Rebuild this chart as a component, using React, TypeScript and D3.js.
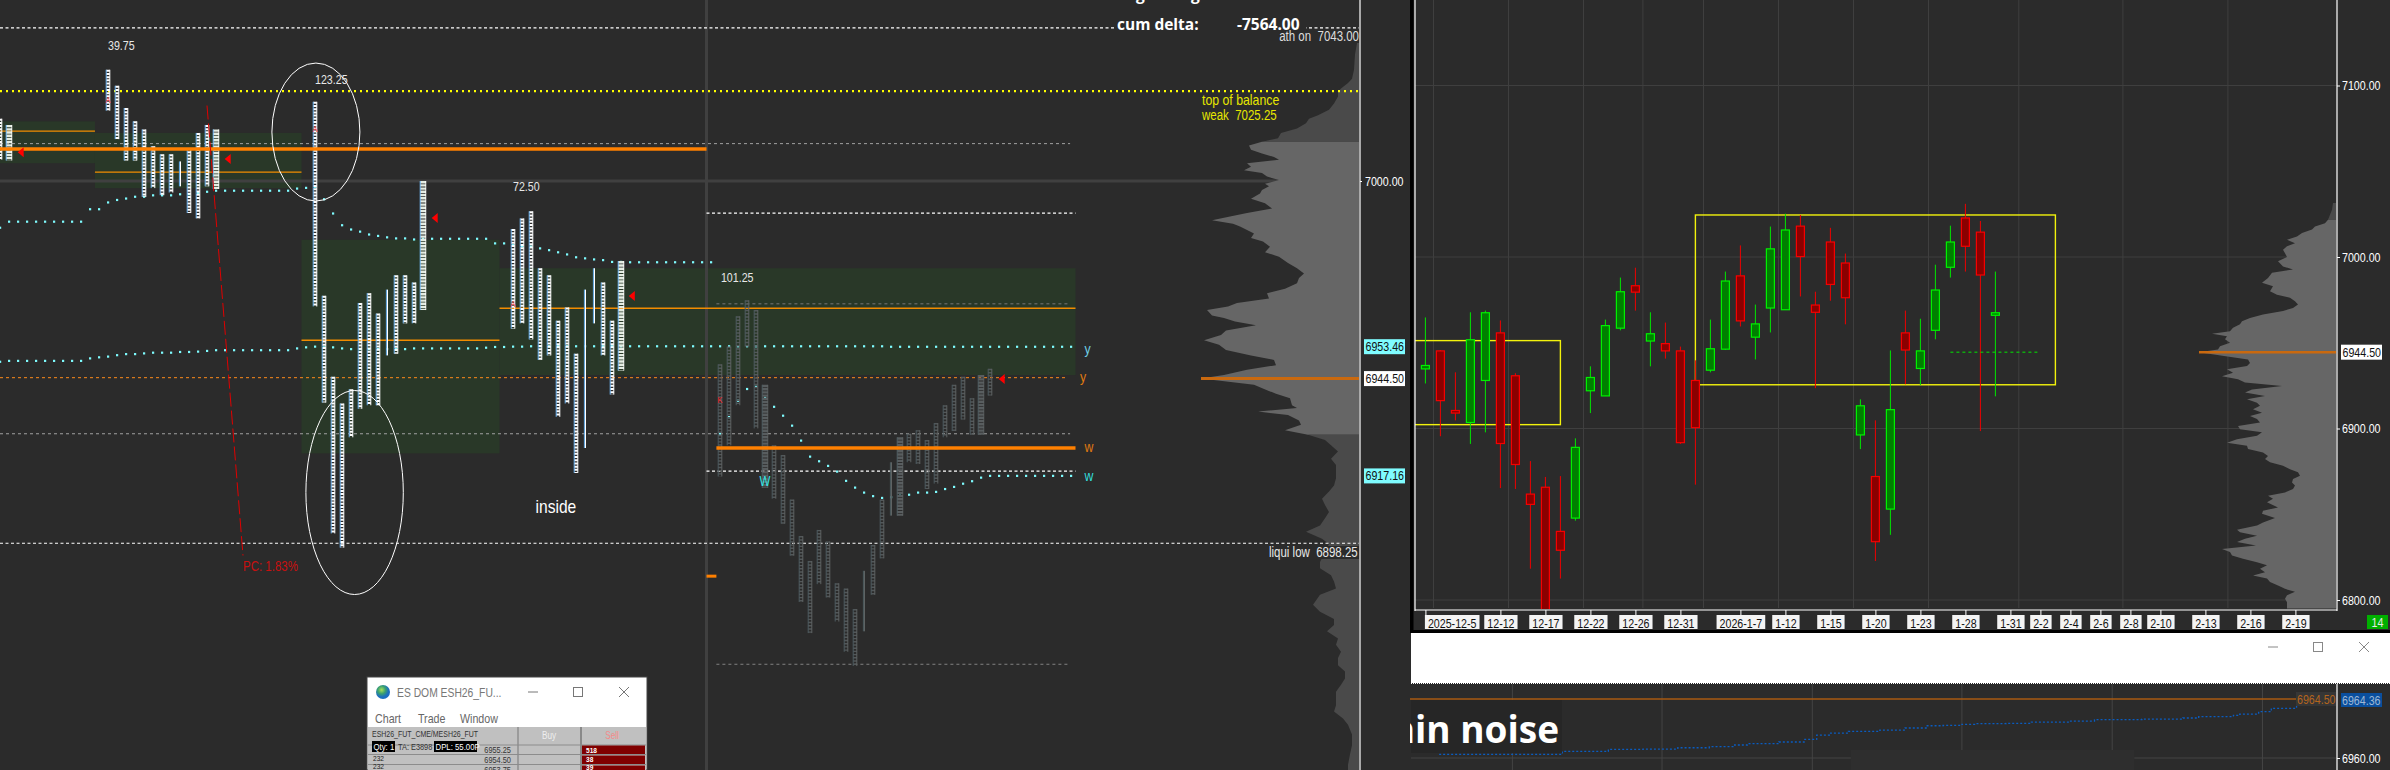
import React, { FC, useEffect, useRef } from "react"
import * as d3 from "d3"

// tpo columns of the left chart: bar number, high, low, letter, kind (n ladder, t thin, w wide)
const tpoBars = [0, 1, 12, 13, 14, 15, 16, 17, 18, 19, 20, 21, 22, 23, 24, 35, 36, 37, 38, 39, 40, 41, 42, 43, 44, 45, 46, 47, 57, 58, 59, 60, 61, 62, 63, 64, 65, 66, 67, 68, 69, 80, 81, 82, 83, 84, 85, 86, 87, 88, 89, 90, 91, 92, 93, 94, 95, 96, 97, 98, 99, 100, 101, 102, 103, 104, 105, 106, 107, 108, 109, 110]
const tpoHigh = [7017.5, 7015.75, 7031.25, 7026.75, 7020.5, 7016.75, 7014.5, 7009.75, 7007.5, 7007.5, 7005.5, 7009.25, 7013.5, 7015.75, 7014.5, 7022.25, 6967.75, 6945, 6937.5, 6941.5, 6965.75, 6968.5, 6962.75, 6969.5, 6973.5, 6973.5, 6971.5, 7000, 6986.5, 6989.5, 6991.5, 6975.5, 6973.5, 6960.75, 6964.5, 6951.5, 6969.5, 6975.5, 6971.5, 6960.75, 6977.5, 6948.5, 6953.5, 6962, 6966.5, 6963.75, 6942.75, 6925.75, 6923, 6910.5, 6900.25, 6893.25, 6902, 6898.75, 6887, 6885.5, 6879.75, 6890.5, 6897.75, 6910.5, 6921, 6928, 6929, 6930, 6927.25, 6932, 6937, 6942.75, 6945, 6939, 6945.5, 6947.25]
const tpoLow = [7006, 7005.75, 7019.75, 7011.75, 7005.75, 7005.75, 6995.5, 6998, 6996, 6996.75, 6998.5, 6991, 6989.5, 6998.5, 6997.75, 6964.75, 6937.75, 6901, 6897, 6928, 6936, 6937, 6937, 6951, 6951.5, 6960, 6960, 6963.75, 6958.5, 6960, 6955.5, 6949.75, 6951, 6933.75, 6937.5, 6918, 6925, 6960, 6951, 6940, 6946.75, 6917, 6925.75, 6937, 6953.5, 6930.5, 6913.75, 6910.75, 6903.75, 6894.75, 6881.75, 6873, 6886.75, 6883, 6876.25, 6867.75, 6863.75, 6873.5, 6883.75, 6894, 6906, 6906, 6921, 6920.5, 6913.5, 6915, 6928, 6929.75, 6933, 6928.75, 6928.75, 6939.75]
const tpoKinds = "nwnnnnnnnntnnnwnnnnnnnntnnnwnnnnnnnnttnnwnnnnnwnnnnnnnnnntnntwnnnnnnnnwn".split("")
const openBars = [12, 35, 57, 80]
const openPrices = [7022.75, 7014.5, 6965.5, 6938.5]
const openLetters = ["A", "A", "A", "K"]

// value areas and point of control per session
const areaFrom = [0, 10.55, 33.5, 55.5]
const areaTo = [10.55, 33.5, 55.5, 119.5]
const areaHigh = [7016.75, 7013.5, 6983.5, 6975.5]
const areaLow = [7005, 6998, 6923.5, 6945.5]
const pocPrices = [7014, 7002.5, 6955.25, 6964.25]

// dotted curves, one value per bar
const upperBars = d3.range(0, 80)
const upperDots = [6986.9, 6988.6, 6988.6, 6988.6, 6988.6, 6988.6, 6988.6, 6988.6, 6988.6, 6988.6, 6992.1, 6992.1, 6994, 6994.7, 6995.1, 6995.6, 6995.6, 6996, 6996, 6996, 6996.3, 6996.3, 6996.7, 6997, 6997.3, 6997.3, 6997.3, 6997.3, 6997.3, 6997.3, 6997.3, 6997.3, 6997.3, 6997.9, 6998.1, 6998.4, 6994.9, 6990.9, 6987.6, 6986.4, 6985.8, 6985, 6984.6, 6984.2, 6983.9, 6983.9, 6983.6, 6983.8, 6983.8, 6983.8, 6983.8, 6983.8, 6983.8, 6983.8, 6983.8, 6982.5, 6982.5, 6982, 6981.7, 6981.6, 6981.1, 6980.6, 6980, 6979.4, 6978.6, 6978.3, 6978, 6977.8, 6977.3, 6977.3, 6977.2, 6977.2, 6977.2, 6977.2, 6977.2, 6977.2, 6977.2, 6977.2, 6977.2, 6977.2]
const sessionBars = d3.range(80, 120)
const sessionDots = [6929.1, 6933.7, 6938.3, 6941.6, 6942.2, 6939.1, 6936.6, 6934.1, 6931.3, 6927.1, 6922.6, 6921.3, 6920, 6918.4, 6915.8, 6913.9, 6912.5, 6911.5, 6911, 6911.2, 6911.6, 6911.9, 6912.5, 6912.5, 6912.7, 6913.5, 6914.1, 6915, 6915.7, 6916.7, 6917.2, 6917.2, 6917.2, 6917.2, 6917.2, 6917.2, 6917.2, 6917.2, 6917.2, 6917.2]
const lowerBars = d3.range(0, 120)
const lowerDots = [6949.25, 6949.5, 6949.5, 6949.5, 6949.5, 6949.5, 6949.5, 6949.5, 6949.5, 6949.5, 6950.2, 6950.5, 6950.7, 6951.1, 6951.4, 6951.4, 6951.6, 6951.8, 6951.8, 6951.8, 6952, 6952, 6952.1, 6952.3, 6952.5, 6952.5, 6952.5, 6952.5, 6952.5, 6952.5, 6952.5, 6952.5, 6952.5, 6953, 6953.3, 6953.5, 6953.3, 6953.3, 6953, 6952.8, 6952.8, 6952.8, 6952.8, 6952.8, 6952.8, 6952.8, 6953, 6953, 6953, 6953, 6953, 6953, 6953, 6953, 6953.2, 6953.4, 6953.4, 6953.5, 6953.5, 6953.6, 6953.6, 6953.6, 6953.6, 6953.6, 6953.6, 6953.6, 6953.6, 6953.6, 6953.6, 6953.6, 6953.6, 6953.6, 6953.6, 6953.6, 6953.6, 6953.6, 6953.6, 6953.6, 6953.6, 6953.6, 6953.6, 6953.6, 6953.6, 6953.6, 6953.6, 6953.6, 6953.6, 6953.6, 6953.6, 6953.6, 6953.6, 6953.6, 6953.6, 6953.6, 6953.6, 6953.6, 6953.6, 6953.6, 6953.6, 6953.46, 6953.46, 6953.46, 6953.46, 6953.46, 6953.46, 6953.46, 6953.46, 6953.46, 6953.46, 6953.46, 6953.46, 6953.46, 6953.46, 6953.46, 6953.46, 6953.46, 6953.46, 6953.46, 6953.46, 6953.46]

// left volume profile
const leftLevels = [7038.75, 7035.5, 7031.25, 7028.75, 7027.5, 7026, 7025, 7023.75, 7021.75, 7020, 7018.5, 7017.5, 7016.25, 7014.75, 7013.5, 7012, 7011, 7010, 7008.75, 7007.75, 7006.75, 7006, 7005, 7004, 7003, 7002.25, 7001.25, 7000.25, 6999.25, 6998.5, 6997.5, 6996.5, 6995, 6993.75, 6992.25, 6991, 6990, 6989, 6988, 6987.25, 6986.25, 6985.25, 6984, 6983, 6981.5, 6980, 6978.75, 6977, 6975.5, 6974, 6972.75, 6971.25, 6969.75, 6968.5, 6967, 6965.75, 6964.75, 6963.75, 6962.25, 6961.5, 6960.5, 6959.5, 6958, 6956.75, 6955.25, 6954, 6952.5, 6951, 6949.75, 6948.25, 6947, 6945.5, 6944.5, 6942.75, 6941.25, 6940.25, 6939, 6937, 6936.25, 6935.25, 6934.25, 6932.75, 6931.5, 6930, 6928.75, 6927.25, 6925.75, 6924, 6922, 6920.25, 6918.25, 6916.5, 6914.5, 6912.75, 6910.75, 6909, 6907, 6905.25, 6903.25, 6901.5, 6899.5, 6898, 6893, 6891.25, 6889.25, 6887.5, 6885.5, 6883.75, 6881, 6879, 6877, 6875.25, 6873.5, 6871.5, 6869.75, 6867.75, 6866, 6864, 6862.25, 6860.25, 6858.5, 6856.5, 6854.75, 6852.75, 6851, 6849, 6847.25, 6844.5, 6841.5, 6839, 6836, 6834.5]
const leftVols = [2, 4, 5, 7, 11, 18, 21, 21, 25, 30, 41, 50, 53, 62, 78, 81, 97, 110, 108, 97, 85, 80, 112, 108, 115, 97, 92, 80, 94, 90, 97, 99, 108, 94, 87, 112, 129, 147, 126, 119, 112, 105, 108, 96, 89, 94, 80, 71, 62, 55, 60, 62, 74, 92, 90, 122, 131, 152, 147, 135, 124, 103, 133, 138, 155, 140, 133, 108, 85, 83, 112, 135, 158, 105, 92, 83, 69, 67, 62, 101, 71, 60, 58, 74, 51, 34, 28, 21, 28, 23, 23, 23, 25, 30, 37, 34, 30, 34, 39, 53, 37, 30, 39, 39, 28, 25, 23, 39, 46, 39, 25, 25, 32, 21, 23, 18, 21, 21, 14, 14, 18, 23, 23, 23, 25, 16, 11, 7, 7, 9, 11, 11]

// right volume profile
const rightLevels = [7031.5, 7027.5, 7021.75, 7019.75, 7017.75, 7016, 7014, 7012, 7010, 7008, 7006.25, 7004.25, 7002.25, 7000, 6997.5, 6994.5, 6992.75, 6990.75, 6987.75, 6985, 6983, 6980, 6978, 6976.25, 6974.25, 6972.25, 6970.25, 6968.5, 6966.5, 6964.5, 6962.5, 6960.75, 6958.75, 6956.75, 6955.25, 6953.75, 6952, 6950, 6948, 6946, 6944.5, 6942.25, 6940.25, 6938.25, 6936.5, 6934.5, 6932.5, 6930.5, 6928.75, 6926.75, 6924.75, 6922.75, 6921, 6919, 6917, 6915, 6913.25, 6911.25, 6909.25, 6907.25, 6905.5, 6903.5, 6901.5, 6899.5, 6897.75, 6895.75, 6893.75, 6891.75, 6890, 6888, 6886, 6884, 6882.25, 6880.25, 6878.25, 6876.25, 6874.5, 6872.5, 6870.5, 6868.5, 6866.75, 6864.75, 6862.75, 6860.75, 6859, 6857, 6854, 6852, 6850.25, 6847.75, 6845.25, 6843.5, 6841, 6839.5, 6837.5, 6835.75, 6833.75, 6831.75, 6829.75, 6828, 6826, 6824, 6822, 6820.25, 6818.25, 6816.25, 6814.25, 6812.5, 6810.5, 6808.5, 6806.5, 6804.75, 6802.75, 6800.75, 6798.75, 6795]
const rightVols = [3, 4, 8, 11, 21, 24, 34, 39, 49, 41, 49, 53, 51, 49, 58, 53, 43, 64, 68, 74, 63, 66, 59, 46, 41, 38, 43, 53, 73, 86, 94, 96, 103, 106, 124, 109, 111, 106, 116, 118, 137, 112, 88, 86, 89, 109, 103, 114, 98, 91, 54, 84, 91, 71, 89, 79, 76, 83, 74, 86, 79, 76, 98, 96, 74, 79, 99, 109, 89, 88, 73, 68, 71, 66, 53, 46, 38, 36, 43, 44, 41, 43, 51, 68, 63, 69, 58, 73, 74, 61, 73, 79, 99, 96, 79, 91, 99, 80, 114, 106, 104, 93, 79, 69, 76, 71, 83, 69, 66, 58, 51, 41, 49, 51, 49, 49]

// daily candles of the right chart
const candleOpen = [6934.75, 6945.25, 6910.5, 6903.5, 6928, 6955.75, 6930.75, 6861.75, 6865.75, 6840, 6847.75, 6922, 6919, 6958.5, 6983.25, 6951, 6949.5, 6945.25, 6928, 6934, 6946.25, 6989, 6953.25, 6970.25, 6969.25, 7018, 6972, 7008.75, 6996.5, 6896.25, 6872, 6853, 6955.75, 6935, 6957.25, 6994, 7022.75, 7014.5, 6966]
const candleClose = [6936.75, 6916.25, 6909, 6951.75, 6967.5, 6891.25, 6879, 6855.75, 6790, 6829, 6889, 6929.75, 6960, 6979.75, 6979.5, 6955.25, 6945.25, 6891.75, 6900.5, 6946.5, 6986, 6962.75, 6961, 7004.75, 7015.75, 7000.25, 6967.75, 6984, 6976.25, 6913.25, 6834, 6911, 6945.75, 6945.25, 6980.75, 7008.75, 7006.25, 6989.5, 6967.5]
const candleHigh = [6964.75, 6945.75, 6932.75, 6967.75, 6968.75, 6963, 6932.25, 6881, 6871.75, 6872.25, 6894.25, 6936.25, 6963.5, 6988, 6993.75, 6967.75, 6961.75, 6947.75, 6939.75, 6963.5, 6991.5, 7006.75, 6972.25, 7017.75, 7025.25, 7024.5, 6979.75, 7017, 7002, 6917, 6904.75, 6945.5, 6968.75, 6964, 6995.5, 7018.25, 7031, 7021, 6991.5]
const candleLow = [6926.25, 6895.5, 6904.75, 6891, 6897.75, 6865.25, 6864.75, 6818.25, 6785, 6812.5, 6846.25, 6909, 6919, 6957.25, 6968.75, 6936.25, 6940.75, 6891, 6867.25, 6932.75, 6945.75, 6959.5, 6940.25, 6956, 6969.25, 6977, 6923.5, 6974.5, 6960.75, 6888, 6822.75, 6838, 6925.75, 6925.25, 6952, 6988, 6991.5, 6898.5, 6918.75]

const dateTicks = [0, 5, 8, 11, 14, 17, 21, 24, 27, 30, 33, 36, 39, 41, 43, 45, 47, 49, 52, 55, 58]
const dateLabels = ["2025-12-5", "12-12", "12-17", "12-22", "12-26", "12-31", "2026-1-7", "1-12", "1-15", "1-20", "1-23", "1-28", "1-31", "2-2", "2-4", "2-6", "2-8", "2-10", "2-13", "2-16", "2-19"]
const dateGrid = [0.54, 5.54, 10.54, 14.5, 18.54, 23.54, 28.54, 33.54, 39.56, 46.5, 53.5]

// bottom panel flow line
const flowBars = [62, 172, 257, 290, 330, 385, 440, 490, 530, 550, 600, 640, 660, 680, 710, 760, 800, 835, 860, 890, 910, 960, 1000, 1060, 1100, 1175, 1240, 1265, 1320, 1330, 1360, 1380, 1420]
const flowPrices = [6960.28, 6960.28, 6960.5, 6960.5, 6960.66, 6960.68, 6960.78, 6960.86, 6960.99, 6961.09, 6961.22, 6961.42, 6961.75, 6961.9, 6962.03, 6962.13, 6962.29, 6962.46, 6962.49, 6962.57, 6962.62, 6962.64, 6962.74, 6962.82, 6962.92, 6962.97, 6963.05, 6963.15, 6963.25, 6963.35, 6963.53, 6963.79, 6964.04]
const flowGrid = [178, 415, 653, 890, 1128, 1366]

// no narrow font is installed, so the platform labels get squeezed by hand
const NARROW = "'Liberation Sans', sans-serif"
const SANS = "'Open Sans', sans-serif"
const SQUEEZE = 0.82

const squeeze = (el: SVGTextElement) => {
  el.setAttribute("textLength", String(el.getComputedTextLength() * SQUEEZE))
  el.setAttribute("lengthAdjust", "spacingAndGlyphs")
}

const App: FC = () => {
  const svgRef = useRef<SVGSVGElement>(null)

  useEffect(() => {
    document.body.style.margin = "0"
    document.body.style.overflow = "hidden"
    const svg = d3.select(svgRef.current)
    svg.selectAll("*").remove()

    // scales
    const barX = d3.scaleLinear().domain([0, 151]).range([0, 1359])
    const leftY = d3.scaleLinear().domain([7000, 6900]).range([181, 537])
    const candleX = d3.scaleLinear().domain([0, 58]).range([1425.4, 2295.4])
    const rightY = d3.scaleLinear().domain([7000, 6800]).range([257, 600])
    const flowX = d3.scaleLinear().domain([0, 1568]).range([1400, 2390])
    const flowY = d3.scaleLinear().domain([6964.5, 6960]).range([699, 758])
    const leftVol = d3.scaleLinear().domain([0, 158]).range([1359, 1201])
    const rightVol = d3.scaleLinear().domain([0, 137]).range([2336, 2199])

    const text = (g: any, x: number, y: number, s: string, fill: string, size = 13, family = NARROW, weight = "normal", anchor = "start", narrow = true) => {
      const t = g.append("text").attr("x", x).attr("y", y).attr("fill", fill).attr("font-size", size)
        .attr("font-family", family).attr("font-weight", weight).attr("text-anchor", anchor)
        .attr("xml:space", "preserve").text(s)
      if (narrow) squeeze(t.node())
      return t
    }
    const styleAxis = (axis: any) => {
      axis.select(".domain").remove()
      axis.selectAll("line").attr("stroke", "#ffffff")
      axis.selectAll("text").attr("font-family", NARROW).attr("font-size", 13).attr("fill", "#ffffff").attr("x", 5)
        .each(function (this: SVGTextElement) { squeeze(this) })
    }

    // background
    svg.append("rect").attr("width", 2390).attr("height", 770).attr("fill", "#2b2b2b")

    // left chart ---------------------------------------------------------
    const left = svg.append("g")
    areaFrom.forEach((_, i) => {
      left.append("rect")
        .attr("x", barX(areaFrom[i])).attr("width", barX(areaTo[i]) - barX(areaFrom[i]))
        .attr("y", leftY(areaHigh[i])).attr("height", leftY(areaLow[i]) - leftY(areaHigh[i]))
        .attr("fill", "#293828")
    })

    // crosshair
    left.append("line").attr("x1", 0).attr("x2", 1359).attr("y1", leftY(7000)).attr("y2", leftY(7000)).attr("stroke", "#404040").attr("stroke-width", 3)
    left.append("line").attr("x1", barX(78.5)).attr("x2", barX(78.5)).attr("y1", 0).attr("y2", 770).attr("stroke", "#404040").attr("stroke-width", 3)

    // volume profile, the value area is lighter
    const drawProfile = (g: any, levels: number[], vols: number[], y: any, vol: any, test: (p: number) => boolean, fill: string) => {
      const rows = levels.map((p, i) => ({ p, v: vols[i] })).filter((d) => test(d.p))
      const area = d3.area<{ p: number; v: number }>()
        .y((d) => y(d.p)).x0(vol(0)).x1((d) => vol(d.v))
      g.append("path").attr("d", area(rows)).attr("fill", fill)
    }
    drawProfile(left, leftLevels, leftVols, leftY, leftVol, (p) => p >= 7011, "#4a4a4a")
    drawProfile(left, leftLevels, leftVols, leftY, leftVol, (p) => p <= 7011 && p >= 6928.75, "#666666")
    drawProfile(left, leftLevels, leftVols, leftY, leftVol, (p) => p <= 6928.75, "#4a4a4a")

    // levels
    const level = (p: number, from: number, to: number, stroke: string, width: number, dash?: string) =>
      left.append("line").attr("x1", barX(from)).attr("x2", barX(to)).attr("y1", leftY(p)).attr("y2", leftY(p))
        .attr("stroke", stroke).attr("stroke-width", width).attr("stroke-dasharray", dash ?? null)
    level(7043, 0, 151, "#ffffff", 1.2, "3 2.5")
    level(6991, 78.5, 119.5, "#ffffff", 1.2, "3 2.5")
    level(6918.5, 78.5, 119.5, "#ffffff", 1.2, "3 2.5")
    level(6898.25, 0, 151, "#ffffff", 1.2, "3 2.5")
    level(7010.5, 0, 118.9, "#a0a0a0", 1, "3 3")
    level(6929, 0, 118.9, "#a0a0a0", 1, "3 3")
    level(6965.5, 79.6, 118.9, "#777777", 1, "3 3")
    level(6864.25, 79.6, 118.9, "#808080", 1, "3 3")
    level(6944.75, 0, 118.5, "#ff8c1a", 1, "3 3")
    areaFrom.forEach((_, i) => level(pocPrices[i], areaFrom[i], areaTo[i], "#f28c00", 1.4))
    level(7025.25, 0, 151, "#ffff00", 2.2, "2 4")

    // dotted curves
    const dots = (bars: number[], prices: number[]) =>
      bars.forEach((b, i) => {
        left.append("rect").attr("x", barX(b) - 1).attr("y", leftY(prices[i]) - 1).attr("width", 2.2).attr("height", 2.2).attr("fill", "#7ffcff")
      })
    dots(upperBars, upperDots)
    dots(sessionBars, sessionDots)
    dots(lowerBars, lowerDots)

    // tpo columns
    tpoBars.forEach((b, i) => {
      const x = barX(b)
      const y0 = leftY(tpoHigh[i])
      const y1 = leftY(tpoLow[i])
      const past = b >= 80
      const rail = past ? "#5e6363" : "#ffffff"
      const blue = past ? "#4e5c60" : "#6db4f2"
      const col = left.append("g")
      const vline = (dx: number, stroke: string, w: number, dash?: string) =>
        col.append("line").attr("x1", x + dx).attr("x2", x + dx).attr("y1", y0).attr("y2", y1)
          .attr("stroke", stroke).attr("stroke-width", w).attr("stroke-dasharray", dash ?? null)
      if (tpoKinds[i] === "t") {
        vline(-0.6, blue, 1)
        vline(0.5, rail, 1)
        return
      }
      if (tpoKinds[i] === "w") {
        vline(0, past ? "#585d5f" : "#e4ece2", 6, "2.4 0.8")
        vline(-2.8, blue, 1)
        vline(2.8, rail, 0.8)
      } else {
        vline(0, past ? "#53585a" : rail, 3.6, past ? "1.4 1.8" : "2 1.2")
        vline(-1.8, blue, 1)
        vline(1.8, rail, 1)
      }
    })
    openBars.forEach((b, i) => text(left, barX(b), leftY(openPrices[i]) + 3, openLetters[i], "#ff2020", 9, NARROW, "normal", "middle"))
    text(left, barX(85), leftY(6915.7) + 5, "W", "#33e6e6", 14, NARROW, "normal", "middle")

    // thick orange levels
    level(7009, 0, 78.5, "#ff8000", 3.5)
    level(6889, 78.5, 79.6, "#ff8000", 3)
    level(6925, 79.6, 119.5, "#ff8000", 3.5)

    // red markers
    const markBars = [2.3, 25.3, 48.3, 70.2, 111.3]
    const markPrices = [7008.1, 7006.2, 6989.6, 6967.7, 6944.4]
    markBars.forEach((b, i) => {
      const x = barX(b)
      const y = leftY(markPrices[i])
      left.append("path").attr("d", d3.line()([[x - 3, y], [x + 3, y - 5], [x + 3, y + 5]]) + "Z").attr("fill", "#ff0000")
    })

    // percent change line and ellipses
    left.append("line").attr("x1", barX(23)).attr("x2", barX(27)).attr("y1", leftY(7021.2)).attr("y2", leftY(6894.8))
      .attr("stroke", "#e00000").attr("stroke-width", 1).attr("stroke-dasharray", "14 4")
    text(left, barX(27), 571, "PC: 1.83%", "#c81010", 14)
    const ring = (bar: number, p: number, rx: number, ry: number) =>
      left.append("ellipse").attr("cx", barX(bar)).attr("cy", leftY(p)).attr("rx", rx).attr("ry", ry)
        .attr("fill", "none").attr("stroke", "#ffffff").attr("stroke-width", 1)
    ring(35.1, 7013.75, 44, 69)
    ring(39.4, 6912.5, 48.7, 102)

    // annotations
    text(left, barX(12), 50, "39.75", "#e8e8e8")
    text(left, barX(35), 84, "123.25", "#e8e8e8")
    text(left, barX(57), 191, "72.50", "#e8e8e8")
    text(left, barX(80.1), 282, "101.25", "#e8e8e8")
    text(left, barX(59.5), 513, "inside", "#ffffff", 19)
    text(left, barX(120.5), 354, "y", "#6fd0e6", 15)
    text(left, barX(120), 382, "y", "#e07a10", 15)
    text(left, barX(120.5), 452, "w", "#e07a10", 15)
    text(left, barX(120.5), 481, "w", "#33dcdc", 15)

    left.append("rect").attr("x", 1115).attr("y", 20).attr("width", 191).attr("height", 14).attr("fill", "#2b2b2b")
    text(left, 1117, 30, "cum delta:", "#ffffff", 15.5, SANS, "bold", "start", false)
    text(left, 1237, 30, "-7564.00", "#ffffff", 15.5, SANS, "bold", "start", false)
    text(left, 1136, 0, "g", "#ffffff", 15.5, SANS, "bold", "start", false)
    text(left, 1191, 0, "g", "#ffffff", 15.5, SANS, "bold", "start", false)
    text(left, 1359, 41, "ath on  7043.00", "#dddddd", 14, NARROW, "normal", "end")
    text(left, 1202, 105, "top of balance", "#e6e600", 15)
    text(left, 1202, 120, "weak  7025.25", "#e6e600", 14)
    left.append("rect").attr("x", 1268).attr("y", 546).attr("width", 91).attr("height", 13).attr("fill", "#2b2b2b")
    text(left, 1269, 557, "liqui low  6898.25", "#e8e8e8", 14)

    // poc of the profile
    left.append("line").attr("x1", leftVol(158)).attr("x2", 1359).attr("y1", leftY(6944.5)).attr("y2", leftY(6944.5))
      .attr("stroke", "#c9690f").attr("stroke-width", 3)

    // left price axis
    const leftAxis = svg.append("g").attr("transform", "translate(1360,0)")
      .call(d3.axisRight(leftY).tickValues([7000]).tickFormat(d3.format(".2f") as any).tickSize(2))
    styleAxis(leftAxis)
    svg.append("line").attr("x1", 1360).attr("x2", 1360).attr("y1", 0).attr("y2", 770).attr("stroke", "#ffffff").attr("stroke-width", 1.2)
    const priceTag = (p: number, bg: string) => {
      svg.append("rect").attr("x", 1364).attr("y", leftY(p) - 7.5).attr("width", 41).attr("height", 15).attr("fill", bg)
      text(svg, 1365.5, leftY(p) + 4.5, d3.format(".2f")(p), "#111111")
    }
    priceTag(6953.46, "#7ffcff")
    priceTag(6917.16, "#7ffcff")
    priceTag(6944.5, "#ffffff")

    // right chart ---------------------------------------------------------
    svg.append("rect").attr("x", 1410).attr("y", 0).attr("width", 3.5).attr("height", 633).attr("fill", "#000000")
    svg.append("clipPath").attr("id", "rightClip").append("rect").attr("x", 1415).attr("y", 0).attr("width", 922).attr("height", 609)
    const right = svg.append("g").attr("clip-path", "url(#rightClip)")
    const grid = right.append("g").attr("stroke", "#3f3f3f").attr("stroke-width", 1)
    dateGrid.forEach((d) => grid.append("line").attr("x1", candleX(d)).attr("x2", candleX(d)).attr("y1", 0).attr("y2", 608))
    ;[7100, 7000, 6900, 6800].forEach((p) => grid.append("line").attr("x1", 1415).attr("x2", 2337).attr("y1", rightY(p)).attr("y2", rightY(p)))

    drawProfile(right, rightLevels, rightVols, rightY, rightVol, (p) => p >= 7021.75, "#4a4a4a")
    drawProfile(right, rightLevels, rightVols, rightY, rightVol, (p) => p <= 7021.75, "#666666")
    right.append("line").attr("x1", rightVol(137)).attr("x2", 2336).attr("y1", rightY(6944.5)).attr("y2", rightY(6944.5))
      .attr("stroke", "#c9690f").attr("stroke-width", 2.5)

    // balance boxes
    const box = (from: number, to: number, hi: number, lo: number) =>
      right.append("rect").attr("x", candleX(from)).attr("width", candleX(to) - candleX(from))
        .attr("y", rightY(hi)).attr("height", rightY(lo) - rightY(hi))
        .attr("fill", "none").attr("stroke", "#f2f20c").attr("stroke-width", 1.4)
    box(-2, 9, 6951.25, 6902.25)
    box(18, 42, 7024.5, 6925.5)

    candleOpen.forEach((o, i) => {
      const c = candleClose[i]
      const up = c >= o
      const x = candleX(i)
      right.append("line").attr("x1", x).attr("x2", x).attr("y1", rightY(candleHigh[i])).attr("y2", rightY(candleLow[i]))
        .attr("stroke", up ? "#00e600" : "#f00000").attr("stroke-width", 1)
      right.append("rect").attr("x", x - 4).attr("width", 8)
        .attr("y", rightY(Math.max(o, c))).attr("height", Math.abs(rightY(o) - rightY(c)))
        .attr("fill", up ? "#007f00" : "#8b0000").attr("stroke", up ? "#00f000" : "#f50000").attr("stroke-width", 1.2)
    })
    right.append("line").attr("x1", candleX(35)).attr("x2", candleX(41)).attr("y1", rightY(6944.5)).attr("y2", rightY(6944.5))
      .attr("stroke", "#00e600").attr("stroke-width", 1).attr("stroke-dasharray", "3 3")

    // right chart axes
    const rightAxis = svg.append("g").attr("transform", "translate(2337,0)")
      .call(d3.axisRight(rightY).tickValues([7100, 7000, 6900, 6800]).tickFormat(d3.format(".2f") as any).tickSize(3))
    styleAxis(rightAxis)
    svg.append("line").attr("x1", 1415).attr("x2", 1415).attr("y1", 0).attr("y2", 611).attr("stroke", "#ffffff").attr("stroke-width", 1.2)
    svg.append("line").attr("x1", 2337).attr("x2", 2337).attr("y1", 0).attr("y2", 611).attr("stroke", "#ffffff").attr("stroke-width", 1.2)
    svg.append("line").attr("x1", 1415).attr("x2", 2337).attr("y1", 610).attr("y2", 610).attr("stroke", "#ffffff").attr("stroke-width", 1.2)
    svg.append("rect").attr("x", 2341).attr("y", rightY(6944.5) - 7.5).attr("width", 41).attr("height", 15).attr("fill", "#ffffff")
    text(svg, 2342.5, rightY(6944.5) + 4.5, "6944.50", "#111111")

    const dateAxis = svg.append("g").attr("transform", "translate(0,610)")
      .call(d3.axisBottom(candleX).tickValues(dateTicks).tickSize(5).tickFormat((_, i) => dateLabels[i]))
    dateAxis.select(".domain").remove()
    dateAxis.selectAll("line").attr("stroke", "#ffffff")
    dateAxis.selectAll(".tick").each(function (_, i) {
      const t = d3.select(this as SVGGElement)
      const label = t.select("text").attr("font-family", NARROW).attr("font-size", 13).attr("fill", "#111111").attr("y", 6).attr("dy", "0.95em")
      const node = label.node() as SVGTextElement
      const w = node.getComputedTextLength() * SQUEEZE
      squeeze(node)
      // the first label starts at its tick so it stays inside the chart
      const dx = i === 0 ? w / 2 + 2 : 0
      label.attr("x", dx)
      t.insert("rect", "text").attr("x", dx - w / 2 - 3).attr("y", 5).attr("width", w + 6).attr("height", 14).attr("fill", "#f4f4f4")
    })
    svg.append("rect").attr("x", 2367).attr("y", 615).attr("width", 21).attr("height", 14).attr("fill", "#00b000")
    text(svg, 2377.5, 627, "14", "#e8e8e8", 13, NARROW, "normal", "middle")
    svg.append("rect").attr("x", 1410).attr("y", 630).attr("width", 980).attr("height", 3).attr("fill", "#000000")

    // bottom right window -------------------------------------------------
    svg.append("rect").attr("x", 1411).attr("y", 633).attr("width", 979).attr("height", 50).attr("fill", "#ffffff")
    const winBtn = svg.append("g").attr("stroke", "#888888").attr("fill", "none").attr("stroke-width", 1)
    winBtn.append("line").attr("x1", 2268).attr("x2", 2278).attr("y1", 647).attr("y2", 647)
    winBtn.append("rect").attr("x", 2313.5).attr("y", 642.5).attr("width", 9).attr("height", 9)
    winBtn.append("path").attr("d", "M2359,642L2369,652M2369,642L2359,652")
    svg.append("line").attr("x1", 1411).attr("x2", 2390).attr("y1", 683.5).attr("y2", 683.5).attr("stroke", "#ffffff").attr("stroke-dasharray", "1 1")

    const flow = svg.append("g")
    flowGrid.forEach((b) => flow.append("line").attr("x1", flowX(b)).attr("x2", flowX(b)).attr("y1", 684).attr("y2", 770).attr("stroke", "#444444"))
    flow.append("line").attr("x1", 1411).attr("x2", 2337).attr("y1", flowY(6960)).attr("y2", flowY(6960)).attr("stroke", "#444444")
    flow.append("rect").attr("x", flowX(714)).attr("y", 750).attr("width", flowX(1163) - flowX(714)).attr("height", 20).attr("fill", "#2e2e2e")
    flow.append("path")
      .attr("d", d3.line<number>().x((b) => flowX(b)).y((_, i) => flowY(flowPrices[i])).curve(d3.curveStepAfter)(flowBars))
      .attr("fill", "none").attr("stroke", "#0a5cc0").attr("stroke-width", 1.3).attr("stroke-dasharray", "2 2")
    flow.append("line").attr("x1", 1410).attr("x2", 2296).attr("y1", flowY(6964.5)).attr("y2", flowY(6964.5)).attr("stroke", "#a85a12").attr("stroke-width", 1.4)
    flow.append("rect").attr("x", 2296).attr("y", 692).attr("width", 40).attr("height", 14).attr("fill", "#363636")
    text(flow, 2297, 703.5, "6964.50", "#b5651d")
    flow.append("rect").attr("x", 2341).attr("y", 693).attr("width", 41).attr("height", 14).attr("fill", "#0a4f9e")
    text(flow, 2342, 704.5, "6964.36", "#9fb8d4")
    const flowAxis = svg.append("g").attr("transform", "translate(2337,0)")
      .call(d3.axisRight(flowY).tickValues([6960]).tickFormat(d3.format(".2f") as any).tickSize(3))
    styleAxis(flowAxis)
    svg.append("line").attr("x1", 2337).attr("x2", 2337).attr("y1", 684).attr("y2", 770).attr("stroke", "#ffffff").attr("stroke-width", 1.2)

    svg.append("clipPath").attr("id", "noiseClip").append("rect").attr("x", 1410).attr("y", 700).attr("width", 152).attr("height", 53)
    const noise = svg.append("g")
    noise.append("rect").attr("x", 1411).attr("y", 700).attr("width", 151).attr("height", 53).attr("fill", "#262626")
    text(noise.append("g").attr("clip-path", "url(#noiseClip)"), 1559, 743, "hin noise", "#ffffff", 37, SANS, "bold", "end", false)

    // dom window ----------------------------------------------------------
    const dom = svg.append("g")
    dom.append("rect").attr("x", 367).attr("y", 677).attr("width", 280).attr("height", 93).attr("fill", "#ffffff").attr("stroke", "#444444")
    const gradient = svg.append("radialGradient").attr("id", "globe").attr("cx", 0.4).attr("cy", 0.35)
    gradient.append("stop").attr("offset", 0).attr("stop-color", "#a8e05a")
    gradient.append("stop").attr("offset", 0.55).attr("stop-color", "#3aa070")
    gradient.append("stop").attr("offset", 1).attr("stop-color", "#1c6fc0")
    dom.append("circle").attr("cx", 383).attr("cy", 692).attr("r", 7).attr("fill", "url(#globe)")
    text(dom, 397, 697, "ES DOM ESH26_FU...", "#777777", 12.6)
    const domBtn = dom.append("g").attr("stroke", "#777777").attr("fill", "none")
    domBtn.append("line").attr("x1", 528).attr("x2", 538).attr("y1", 692).attr("y2", 692)
    domBtn.append("rect").attr("x", 573.5).attr("y", 687.5).attr("width", 9).attr("height", 9)
    domBtn.append("path").attr("d", "M619,687L629,697M629,687L619,697")
    text(dom, 375, 723, "Chart", "#666666", 13)
    text(dom, 418, 723, "Trade", "#666666", 13)
    text(dom, 460, 723, "Window", "#666666", 13)
    dom.append("rect").attr("x", 368).attr("y", 727).attr("width", 278).attr("height", 43).attr("fill", "#c0c0c0")
    dom.append("line").attr("x1", 518).attr("x2", 518).attr("y1", 727).attr("y2", 770).attr("stroke", "#777777")
    dom.append("line").attr("x1", 581).attr("x2", 581).attr("y1", 727).attr("y2", 770).attr("stroke", "#777777").attr("stroke-width", 1.5)
    ;[745, 754.5, 764.5].forEach((y) => dom.append("line").attr("x1", 368).attr("x2", 646).attr("y1", y).attr("y2", y).attr("stroke", "#8c8c8c"))
    ;[745.5, 755.5, 765.5].forEach((y, i) => dom.append("rect").attr("x", 582).attr("y", y).attr("width", 63).attr("height", i === 2 ? 5 : 8.5).attr("fill", "#800000"))
    text(dom, 372, 737, "ESH26_FUT_CME/MESH26_FUT", "#333333", 8.5)
    text(dom, 549, 739, "Buy", "#eeeeee", 10, NARROW, "normal", "middle")
    text(dom, 612, 739, "Sell", "#f58a8a", 10, NARROW, "normal", "middle")
    ;[761, 769].forEach((y) => text(dom, 373, y, "232", "#222222", 8))
    dom.append("rect").attr("x", 372).attr("y", 741).attr("width", 23).attr("height", 11).attr("fill", "#000000")
    text(dom, 373.5, 750, "Qty: 1", "#ffffff", 9.5)
    text(dom, 398, 750, "TA: E3898", "#333333", 9)
    dom.append("rect").attr("x", 434).attr("y", 741).attr("width", 43).attr("height", 11).attr("fill", "#000000")
    text(dom, 435.5, 750, "DPL: 55.00P", "#ffffff", 9.5)
    ;[["6955.25", 753], ["6954.50", 763], ["6953.75", 773]].forEach(([s, y]) => text(dom, 511, y as number, s as string, "#333333", 9, NARROW, "normal", "end"))
    ;[["518", 753], ["38", 762], ["39", 770]].forEach(([s, y]) => text(dom, 586, y as number, s as string, "#ffffff", 8, NARROW, "bold"))
  }, [])

  return <svg ref={svgRef} width={2390} height={770} style={{ position: "absolute", left: 0, top: 0, display: "block" }} />
}

export default App
